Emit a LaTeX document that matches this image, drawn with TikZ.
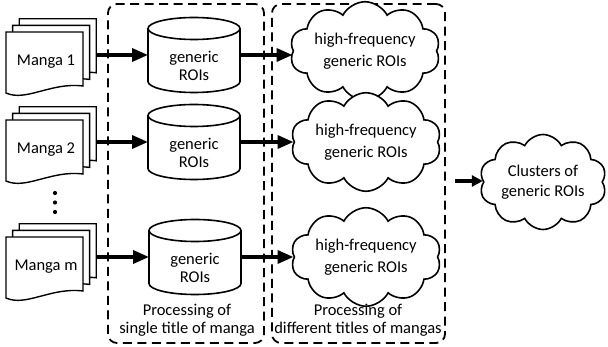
\documentclass[tikz,border=0pt]{standalone}
\usepackage{fontspec}
\setmainfont{Carlito}
\usetikzlibrary{shapes.symbols,arrows.meta}
\begin{document}
\begin{tikzpicture}[x=1pt,y=-1pt,
  txt/.style={font=\fontsize{16.5}{18}\selectfont, align=center, inner sep=0},
  page/.style={draw=black, fill=white, line width=1.4pt, line join=miter},
  dbl/.style={draw=black, fill=white, line width=1.6pt},
  cloudn/.style={txt, cloud, cloud puffs=10, cloud puff arc=125, aspect=1.9, draw,
     line width=1.6pt, fill=white, minimum width=150pt, minimum height=84pt},
  grp/.style={draw, line width=1.8pt, rounded corners=9pt, dash pattern=on 9pt off 5.5pt,
     inner sep=0},
  arr/.style={line width=3.5pt, -{Triangle[length=16pt,width=13pt]}},
  arrs/.style={line width=3.2pt, -{Triangle[length=11pt,width=11pt]}},
  hold/.style={inner sep=0, outer sep=0}
]
\useasboundingbox (0,0) rectangle (608,347);

% group boxes
\node[grp, minimum width=156pt, minimum height=339pt] (g1) at (186,173.5) {};
\node[grp, minimum width=173pt, minimum height=339pt] (g2) at (358.5,173.5) {};

% manga stacks
\newcommand\mstack[2]{%
  \foreach \d in {2,1,0}{
    \begin{scope}[shift={({#1+6.6*\d},{#2-6.6*\d})}]
      \filldraw[page] (0,0) -- (77,0) -- (77,54) .. controls (45,50) and (20,70) .. (0,61) -- cycle;
    \end{scope}
  }%
}
\mstack{6}{32}
\mstack{6}{120}
\mstack{6}{237}
\node[hold, minimum width=91pt, minimum height=74pt] (s1) at (51.5,56) {};
\node[hold, minimum width=91pt, minimum height=74pt] (s2) at (51.5,144) {};
\node[hold, minimum width=91pt, minimum height=74pt] (s3) at (51.5,261) {};
\node[txt] (m1) at (46,62) {Manga 1};
\node[txt] (m2) at (46,150) {Manga 2};
\node[txt] (m3) at (46,267) {Manga m};

% dots
\foreach \yy in {193,202.5,212} \fill (55,\yy) circle (2.1pt);

% cylinders
\newcommand\cyl[2]{%
  \filldraw[dbl] ({#1-46},{#2-26.5}) -- ({#1-46},{#2+26.5})
     arc[start angle=180, end angle=0, x radius=46, y radius=11]
     -- ({#1+46},{#2-26.5})
     arc[start angle=0, end angle=-180, x radius=46, y radius=11] -- cycle;
  \draw[dbl, fill=none] ({#1-46},{#2-26.5}) arc[start angle=180, end angle=0, x radius=46, y radius=11];
}
\cyl{194}{55}
\cyl{194}{142}
\cyl{195}{257}
\node[hold, minimum width=92pt, minimum height=75pt] (c1) at (194,55) {};
\node[hold, minimum width=92pt, minimum height=75pt] (c2) at (194,142) {};
\node[hold, minimum width=92pt, minimum height=75pt] (c3) at (195,257) {};
\node[txt] (c1t) at (194,65.5) {generic\\ROIs};
\node[txt] (c2t) at (194,152.5) {generic\\ROIs};
\node[txt] (c3t) at (195,267.5) {generic\\ROIs};

% clouds
\node[cloudn, font=\fontsize{16.5}{21.5}\selectfont] (h1) at (365,51) {high-frequency\\generic ROIs};
\node[cloudn, font=\fontsize{16.5}{21.5}\selectfont] (h2) at (366,142) {high-frequency\\generic ROIs};
\node[cloudn, font=\fontsize{16.5}{21.5}\selectfont] (h3) at (366,257) {high-frequency\\generic ROIs};
\node[cloudn, font=\fontsize{16.5}{19.5}\selectfont, minimum width=127pt, minimum height=95pt] (cl) at (543,182) {Clusters of\\generic ROIs};

% labels
\node[txt] (l1) at (187,320) {Processing of\\single title of manga};
\node[txt] (l2) at (358,320) {Processing of\\different titles of mangas};

% arrows
\draw[arr] (s1.east |- c1) -- (c1.west);
\draw[arr] (s2.east |- c2) -- (c2.west);
\draw[arr] (s3.east |- c3) -- (c3.west);
\draw[arr] (c1.east) -- (h1.west |- c1);
\draw[arr] (c2.east) -- (h2.west |- c2);
\draw[arr] (c3.east) -- (h3.west |- c3);
\coordinate (a4) at (455,181);
\draw[arrs] (a4) -- (cl.west |- a4);
\end{tikzpicture}
\end{document}
